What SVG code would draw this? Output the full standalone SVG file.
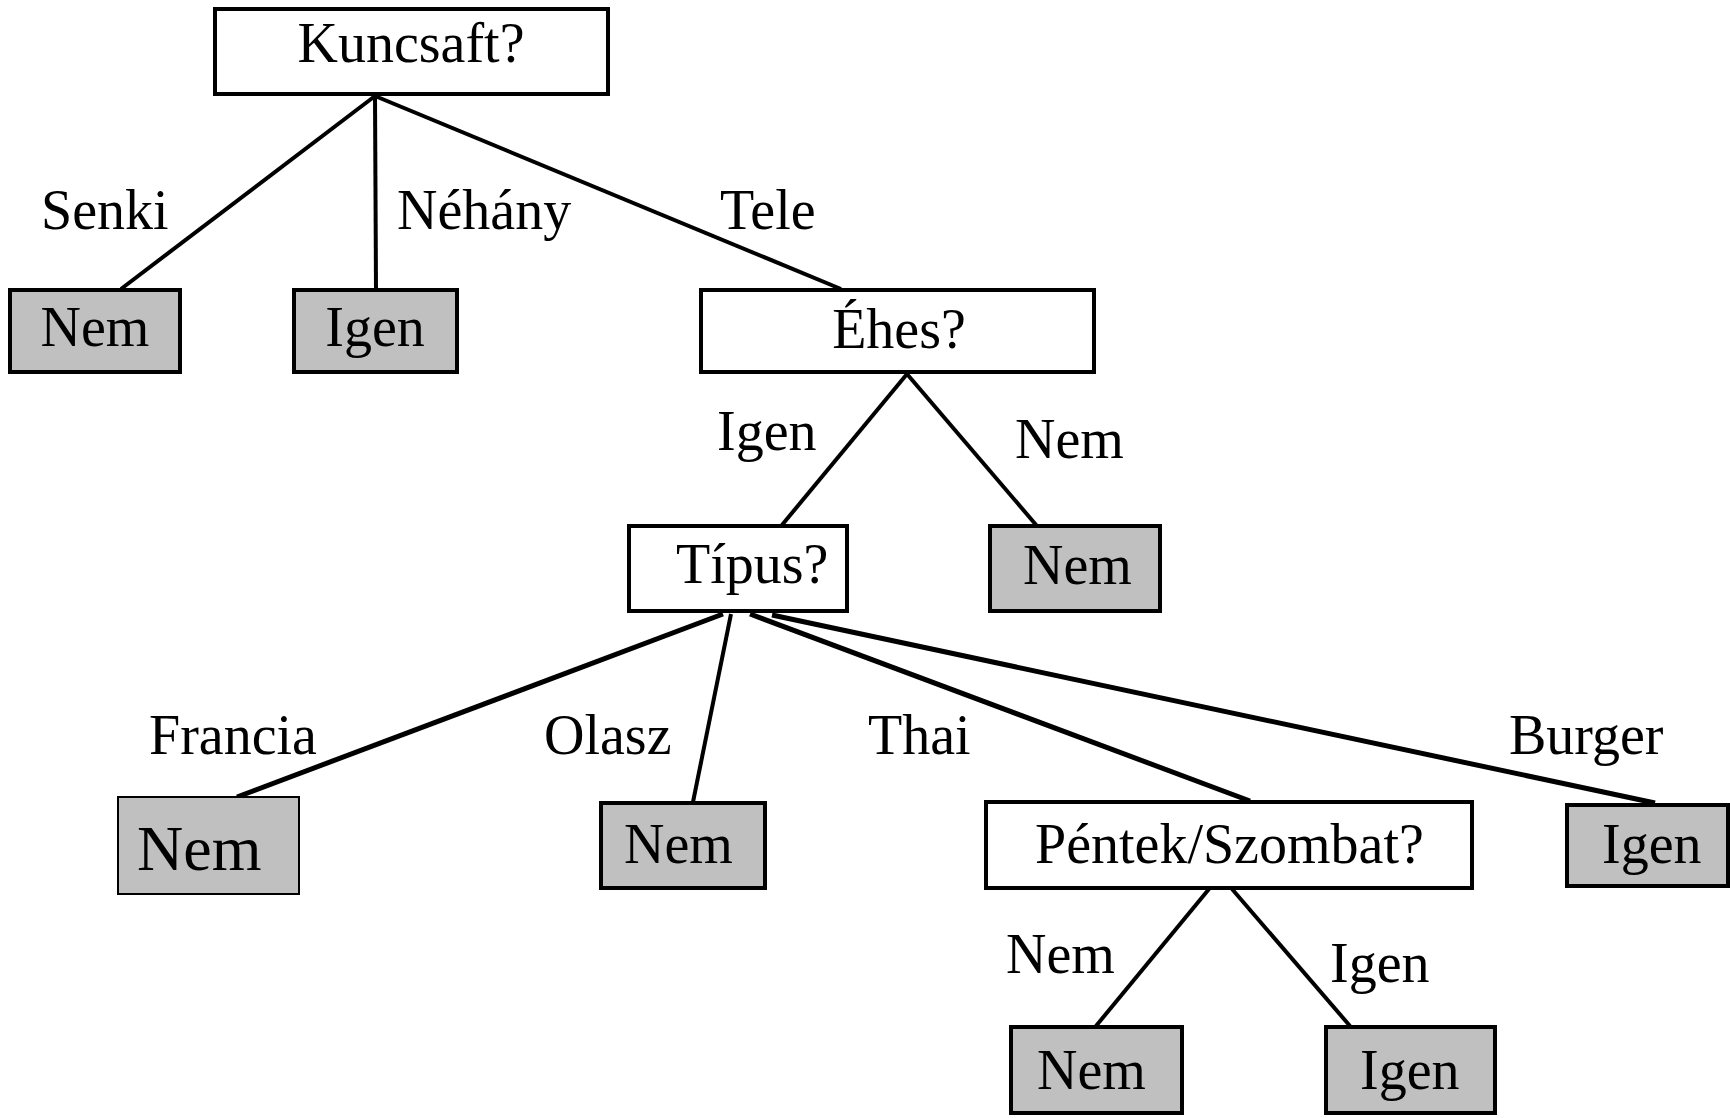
<svg xmlns="http://www.w3.org/2000/svg" width="1730" height="1118" viewBox="0 0 1730 1118">
  <style>
    .q { fill: #ffffff; stroke: #000000; stroke-width: 4; }
    .leaf { fill: #c0c0c0; stroke: #000000; stroke-width: 4; }
    .leaf-thin { fill: #c0c0c0; stroke: #000000; stroke-width: 2; }
    .edge { stroke: #000000; stroke-width: 4; fill: none; }
    .edge-heavy { stroke: #000000; stroke-width: 5; fill: none; }
    text { font-family: "Liberation Serif", "Times New Roman", serif; font-size: 56px; fill: #000000; }
  </style>
  <rect width="1730" height="1118" fill="#ffffff"/>

  <g id="connectors">
    <line class="edge" x1="375" y1="96" x2="121" y2="289"/>
    <line class="edge" x1="375" y1="96" x2="376" y2="289"/>
    <line class="edge" x1="375" y1="96" x2="841" y2="289"/>
    <line class="edge" x1="907" y1="374" x2="782" y2="525"/>
    <line class="edge" x1="907" y1="374" x2="1037" y2="526"/>
    <line class="edge-heavy" x1="723" y1="614" x2="237" y2="797"/>
    <line class="edge" x1="731" y1="614" x2="693" y2="802"/>
    <line class="edge-heavy" x1="750" y1="614" x2="1250" y2="801"/>
    <line class="edge-heavy" x1="772" y1="615" x2="1655" y2="803"/>
    <line class="edge" x1="1209" y1="889" x2="1096" y2="1026"/>
    <line class="edge" x1="1232" y1="889" x2="1350" y2="1026"/>
    <text x="41" y="229">Senki</text>
    <text x="397" y="229">Néhány</text>
    <text x="720" y="229">Tele</text>
    <text x="717" y="450">Igen</text>
    <text x="1015" y="458">Nem</text>
    <text x="149" y="754">Francia</text>
    <text x="544" y="754">Olasz</text>
    <text x="868" y="754">Thai</text>
    <text x="1509" y="754">Burger</text>
    <text x="1006" y="973">Nem</text>
    <text x="1330" y="982">Igen</text>
  </g>

  <g id="kuncsaft">
    <rect class="q" x="215" y="9" width="393" height="85"/>
    <text x="411" y="62" text-anchor="middle">Kuncsaft?</text>
  </g>
  <g id="senki-nem">
    <rect class="leaf" x="10" y="290" width="170" height="82"/>
    <text x="95" y="346" text-anchor="middle">Nem</text>
  </g>
  <g id="nehany-igen">
    <rect class="leaf" x="294" y="290" width="163" height="82"/>
    <text x="375" y="346" text-anchor="middle">Igen</text>
  </g>
  <g id="ehes">
    <rect class="q" x="701" y="290" width="393" height="82"/>
    <text x="899" y="348" text-anchor="middle">Éhes?</text>
  </g>
  <g id="tipus">
    <rect class="q" x="629" y="526" width="218" height="85"/>
    <text x="676" y="583">Típus?</text>
  </g>
  <g id="ehes-nem">
    <rect class="leaf" x="990" y="526" width="170" height="85"/>
    <text x="1023" y="584">Nem</text>
  </g>
  <g id="francia-nem">
    <rect class="leaf-thin" x="118" y="797" width="181" height="97"/>
    <text x="137" y="870" style="font-size:64px">Nem</text>
  </g>
  <g id="olasz-nem">
    <rect class="leaf" x="601" y="803" width="164" height="85"/>
    <text x="624" y="863">Nem</text>
  </g>
  <g id="pentek-szombat">
    <rect class="q" x="986" y="802" width="486" height="86"/>
    <text x="1035" y="863">Péntek/Szombat?</text>
  </g>
  <g id="burger-igen">
    <rect class="leaf" x="1567" y="805" width="161" height="81"/>
    <text x="1602" y="863">Igen</text>
  </g>
  <g id="pentek-nem">
    <rect class="leaf" x="1011" y="1027" width="171" height="86"/>
    <text x="1037" y="1089">Nem</text>
  </g>
  <g id="pentek-igen">
    <rect class="leaf" x="1326" y="1027" width="169" height="86"/>
    <text x="1360" y="1089">Igen</text>
  </g>
</svg>
